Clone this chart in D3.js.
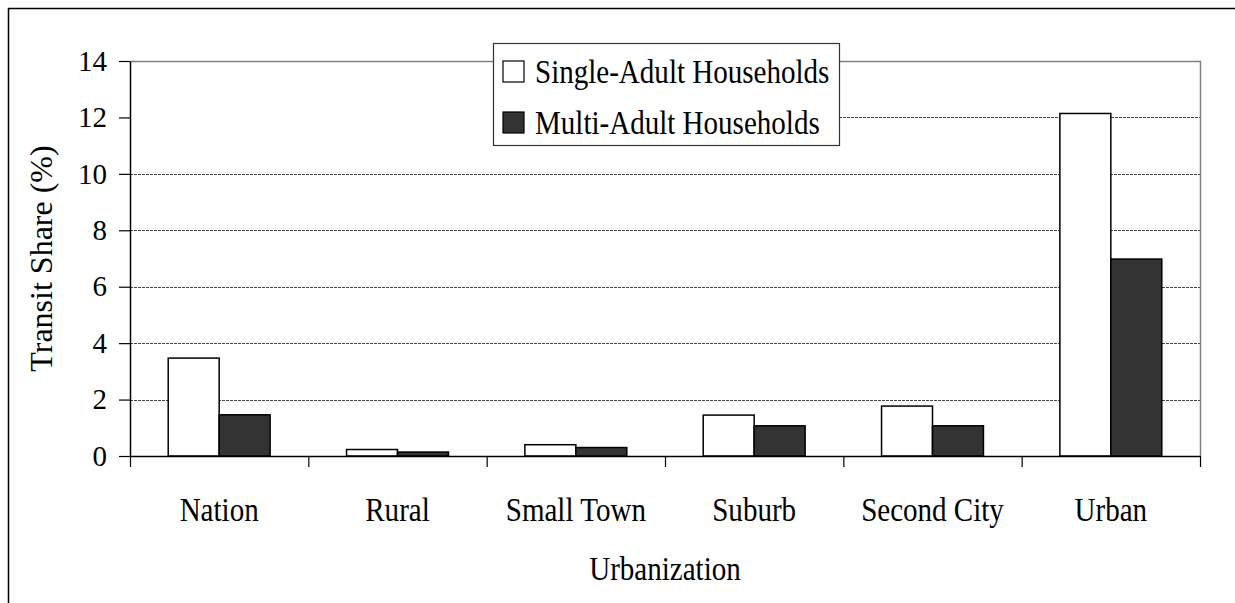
<!DOCTYPE html>
<html>
<head>
<meta charset="utf-8">
<script src="https://cdn.jsdelivr.net/npm/d3@7"></script>
<style>
    html, body { margin: 0; padding: 0; background: #fff; overflow: hidden; }
    svg { display: block; overflow: hidden; }
    text { font-family: "Liberation Serif", "Times New Roman", serif; fill: #000; }
</style>
</head>
<body>
<div id="chart-area"></div>
<script>
// data
var categories = ["Nation", "Rural", "Small Town", "Suburb", "Second City", "Urban"];
var seriesNames = ["Single-Adult Households", "Multi-Adult Households"];
var singleAdult = [3.47, 0.23, 0.4, 1.45, 1.77, 12.14];
var multiAdult = [1.46, 0.14, 0.3, 1.07, 1.07, 6.98];
var yTicks = [0, 2, 4, 6, 8, 10, 12, 14];
var seriesColors = ["#ffffff", "#333333"];

var W = 1235, H = 603;
var margin = { left: 130, right: 35, top: 61, bottom: 147 };
var width = W - margin.left - margin.right,
    height = H - margin.top - margin.bottom;
var serif = "'Liberation Serif', 'Times New Roman', serif";
var squeeze = 0.88; // the original lettering is a bit narrow

var svg = d3.select("#chart-area")
    .append("svg")
    .attr("width", W)
    .attr("height", H);

// outer frame: only its left and top edges fall inside the picture
svg.append("line")
    .attr("x1", 8.5).attr("y1", 8)
    .attr("x2", 8.5).attr("y2", H)
    .attr("stroke", "#000")
    .attr("stroke-width", 1.5);
svg.append("line")
    .attr("x1", 8).attr("y1", 8.5)
    .attr("x2", W).attr("y2", 8.5)
    .attr("stroke", "#000")
    .attr("stroke-width", 1.5);

var g = svg.append("g")
    .attr("transform", "translate(" + margin.left + ", " + margin.top + ")");

var x = d3.scaleBand()
    .domain(categories)
    .range([0, width]);

var xSeries = d3.scaleBand()
    .domain(seriesNames)
    .range([0, x.bandwidth()])
    .paddingInner(0)
    .paddingOuter(0.75);

var y = d3.scaleLinear()
    .domain([0, 14])
    .range([height, 0]);

// legend geometry (needed for the 12 gridline, which stops at the legend)
var legend = { x: 493 - margin.left, y: 43 - margin.top, w: 346, h: 102 };

// gridlines
g.selectAll("line.grid")
    .data(yTicks.filter(function (d) { return d > 0 && d < 14; }))
    .enter()
    .append("line")
    .attr("class", "grid")
    .attr("x1", function (d) { return d === 12 ? legend.x + legend.w : 0; })
    .attr("x2", width)
    .attr("y1", function (d) { return Math.round(y(d)) + 0.5; })
    .attr("y2", function (d) { return Math.round(y(d)) + 0.5; })
    .attr("stroke", "#444")
    .attr("stroke-width", 1)
    .attr("stroke-dasharray", "3,1");

// top and right border of the plot area
g.append("path")
    .attr("d", "M0," + (y(14) + 0.5) + "H" + (width + 0.5) + "V" + height)
    .attr("fill", "none")
    .attr("stroke", "#808080")
    .attr("stroke-width", 1.5);

// bars
var groups = g.selectAll("g.cat")
    .data(categories)
    .enter()
    .append("g")
    .attr("class", "cat")
    .attr("transform", function (d) { return "translate(" + x(d) + ",0)"; });

groups.selectAll("rect")
    .data(function (d, i) {
        return [
            { s: seriesNames[0], v: singleAdult[i], c: seriesColors[0] },
            { s: seriesNames[1], v: multiAdult[i], c: seriesColors[1] }
        ];
    })
    .enter()
    .append("rect")
    .attr("x", function (d) { return xSeries(d.s); })
    .attr("y", function (d) { return y(d.v); })
    .attr("width", xSeries.bandwidth())
    .attr("height", function (d) { return height - y(d.v); })
    .attr("fill", function (d) { return d.c; })
    .attr("stroke", "#000")
    .attr("stroke-width", 1.5);

// Y axis
var yAxisCall = d3.axisLeft(y)
    .tickValues(yTicks)
    .tickSize(11)
    .tickPadding(12)
    .tickSizeOuter(0);
var yAxis = g.append("g")
    .attr("class", "y-axis")
    .call(yAxisCall)
    .attr("font-family", serif)
    .attr("font-size", "29px");
yAxis.select(".domain").attr("stroke", "#000").attr("stroke-width", 1.5);
yAxis.selectAll("line").attr("stroke", "#000").attr("stroke-width", 1.2);

// X axis: ticks on the category boundaries
var xEdge = d3.scaleLinear()
    .domain([0, categories.length])
    .range([0, width]);
var xAxisCall = d3.axisBottom(xEdge)
    .tickValues(d3.range(categories.length + 1))
    .tickFormat("")
    .tickSize(11)
    .tickSizeOuter(0);
var xAxis = g.append("g")
    .attr("class", "x axis")
    .attr("transform", "translate(0, " + height + ")")
    .call(xAxisCall);
xAxis.select(".domain").attr("stroke", "#000").attr("stroke-width", 1.5);
xAxis.selectAll("line").attr("stroke", "#000").attr("stroke-width", 1.2);

// category labels
g.selectAll("text.cat-label")
    .data(categories)
    .enter()
    .append("text")
    .attr("class", "cat-label")
    .attr("transform", function (d) {
        return "translate(" + (x(d) + x.bandwidth() / 2) + "," + (height + 65) + ") scale(" + squeeze + ",1)";
    })
    .attr("font-family", serif)
    .attr("font-size", "33px")
    .attr("text-anchor", "middle")
    .text(function (d) { return d; });

// X Label
g.append("text")
    .attr("class", "x axis-label")
    .attr("transform", "translate(" + (width / 2) + "," + (height + 124) + ") scale(" + squeeze + ",1)")
    .attr("font-family", serif)
    .attr("font-size", "33px")
    .attr("text-anchor", "middle")
    .text("Urbanization");

// Y Label
g.append("text")
    .attr("class", "y axis-label")
    .attr("x", -(height / 2))
    .attr("y", -78)
    .attr("font-family", serif)
    .attr("font-size", "32px")
    .attr("text-anchor", "middle")
    .attr("transform", "rotate(-90)")
    .text("Transit Share (%)");

// legend
var lg = g.append("g")
    .attr("class", "legend")
    .attr("transform", "translate(" + legend.x + "," + legend.y + ")");

lg.append("rect")
    .attr("x", 0.5)
    .attr("y", 0.5)
    .attr("width", legend.w)
    .attr("height", legend.h)
    .attr("fill", "#fff")
    .attr("stroke", "#333")
    .attr("stroke-width", 1.2);

var items = lg.selectAll("g.item")
    .data(seriesNames)
    .enter()
    .append("g")
    .attr("class", "item")
    .attr("transform", function (d, i) { return "translate(10," + (18 + i * 51) + ")"; });

items.append("rect")
    .attr("width", 21)
    .attr("height", 21)
    .attr("fill", function (d, i) { return seriesColors[i]; })
    .attr("stroke", "#000")
    .attr("stroke-width", 1.2);

items.append("text")
    .attr("transform", "translate(32,22) scale(" + squeeze + ",1)")
    .attr("font-family", serif)
    .attr("font-size", "33px")
    .text(function (d) { return d; });
</script>
</body>
</html>
